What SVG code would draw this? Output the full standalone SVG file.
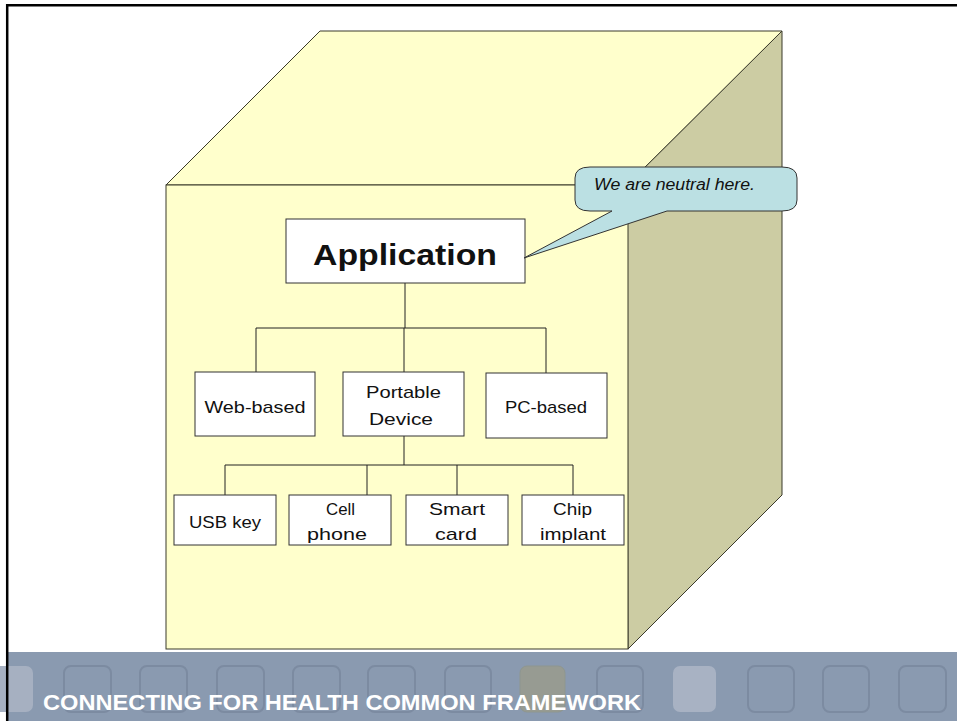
<svg xmlns="http://www.w3.org/2000/svg" width="957" height="721" viewBox="0 0 957 721">
<defs>
<style>
.face{fill:#FFFFCC;stroke:#3a3a2a;stroke-width:1}
.side{fill:#CCCCA3;stroke:#3a3a2a;stroke-width:1}
.box{fill:#FFFFFF;stroke:#333333;stroke-width:1}
.t{font-family:"Liberation Sans",Arial,sans-serif;font-size:17px;fill:#111111;text-anchor:middle}
.con{fill:none;stroke:#222222;stroke-width:1}
.sq{fill:none;stroke:#7C8BA1;stroke-width:2}
</style>
</defs>
<rect x="0" y="0" width="957" height="721" fill="#FFFFFF"/>
<!-- banner -->
<rect x="8" y="652" width="949" height="69" fill="#8A9AB0"/>
<g id="banner-squares">
<rect x="-20" y="666" width="53" height="46" rx="7" fill="#A6B0C1"/>
<rect class="sq" x="64" y="666" width="47" height="46" rx="7"/>
<rect class="sq" x="140" y="666" width="47" height="46" rx="7"/>
<rect class="sq" x="217" y="666" width="47" height="46" rx="7"/>
<rect class="sq" x="293" y="666" width="47" height="46" rx="7"/>
<rect class="sq" x="368" y="666" width="47" height="46" rx="7"/>
<rect class="sq" x="445" y="666" width="46" height="46" rx="7" stroke="#8294A8"/>
<rect x="520" y="666" width="45" height="46" rx="7" fill="#979B92" stroke="#8E968F" stroke-width="1"/>
<rect class="sq" x="597" y="666" width="46" height="46" rx="7"/>
<rect x="673" y="666" width="43" height="46" rx="7" fill="#A8B2C3"/>
<rect class="sq" x="748" y="666" width="46" height="46" rx="7"/>
<rect class="sq" x="823" y="666" width="46" height="46" rx="7" stroke="#8394AA"/>
<rect class="sq" x="899" y="666" width="47" height="46" rx="7"/>
</g>
<text x="43" y="710" textLength="598" lengthAdjust="spacingAndGlyphs" style="font-family:'Liberation Sans Narrow','Liberation Sans',Arial,sans-serif;font-weight:bold;font-size:22.5px;fill:#FFFFFF">CONNECTING FOR HEALTH COMMON FRAMEWORK</text>
<!-- frame -->
<path d="M7.2,721 V5.3 H957" fill="none" stroke="#000000" stroke-width="2.5"/>
<!-- cube -->
<g id="cube">
<polygon class="side" points="627,185 782,31 782,495 628,649"/>
<polygon class="face" points="166,185 320,31 782,31 627,185"/>
<rect class="face" x="166" y="185" width="462" height="464"/>
</g>
<!-- connectors -->
<g id="connectors">
<line class="con" x1="405" y1="283" x2="405" y2="328" stroke-width="1.5"/>
<polyline class="con" points="256,372 256,328 546,328 546,373"/>
<line class="con" x1="404" y1="328" x2="404" y2="372"/>
<line class="con" x1="404" y1="436" x2="404" y2="465" stroke-width="2.5"/>
<polyline class="con" points="225,495 225,465 573,465 573,495"/>
<line class="con" x1="367" y1="465" x2="367" y2="495"/>
<line class="con" x1="457" y1="465" x2="457" y2="495"/>
</g>
<g id="application">
<rect class="box" x="286" y="219" width="239" height="64"/>
<text class="t" x="405" y="265" textLength="184" lengthAdjust="spacingAndGlyphs" style="font-size:30px;font-weight:bold">Application</text>
</g>
<g id="web-based">
<rect class="box" x="195" y="372" width="120" height="64"/>
<text class="t" x="255" y="413" textLength="101" lengthAdjust="spacingAndGlyphs">Web-based</text>
</g>
<g id="portable-device">
<rect class="box" x="343" y="372" width="121" height="64"/>
<text class="t" x="403.5" y="398" textLength="75" lengthAdjust="spacingAndGlyphs">Portable</text>
<text class="t" x="401" y="425" textLength="64" lengthAdjust="spacingAndGlyphs">Device</text>
</g>
<g id="pc-based">
<rect class="box" x="486" y="373" width="121" height="65"/>
<text class="t" x="546" y="413" textLength="82" lengthAdjust="spacingAndGlyphs">PC-based</text>
</g>
<g id="usb-key">
<rect class="box" x="174" y="495" width="102" height="50"/>
<text class="t" x="225" y="528" textLength="72" lengthAdjust="spacingAndGlyphs">USB key</text>
</g>
<g id="cell-phone">
<rect class="box" x="289" y="495" width="102" height="50"/>
<text class="t" x="340.5" y="515" textLength="29" lengthAdjust="spacingAndGlyphs">Cell</text>
<text class="t" x="337" y="540" textLength="60" lengthAdjust="spacingAndGlyphs">phone</text>
</g>
<g id="smart-card">
<rect class="box" x="406" y="495" width="102" height="50"/>
<text class="t" x="457" y="515" textLength="56" lengthAdjust="spacingAndGlyphs">Smart</text>
<text class="t" x="456" y="540" textLength="42" lengthAdjust="spacingAndGlyphs">card</text>
</g>
<g id="chip-implant">
<rect class="box" x="522" y="495" width="102" height="50"/>
<text class="t" x="572.5" y="515" textLength="39" lengthAdjust="spacingAndGlyphs">Chip</text>
<text class="t" x="573" y="540" textLength="66" lengthAdjust="spacingAndGlyphs">implant</text>
</g>
<g id="callout">
<path d="M590,167 H782 Q797,167 797,178 V200 Q797,211 782,211 H667 L524,258 L612,211 H590 Q575,211 575,200 V178 Q575,167 590,167 Z" fill="#BBE0E3" stroke="#333333" stroke-width="1"/>
<text x="594" y="190" textLength="161" lengthAdjust="spacingAndGlyphs" style="font-family:'Liberation Sans',Arial,sans-serif;font-style:italic;font-size:16px;fill:#111111">We are neutral here.</text>
</g>
</svg>
